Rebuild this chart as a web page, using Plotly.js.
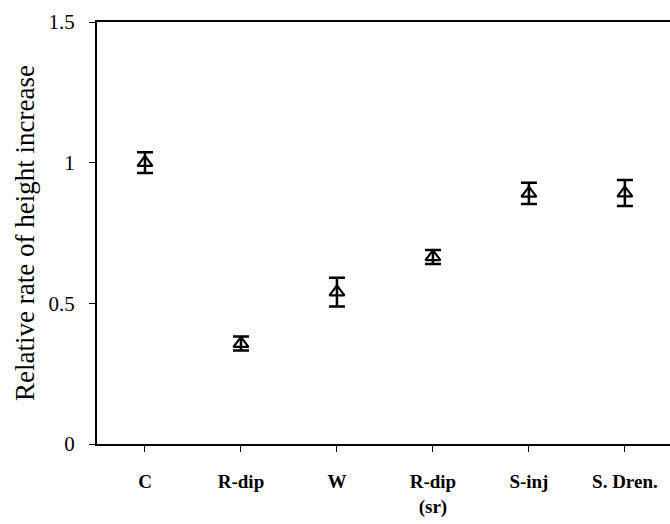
<!DOCTYPE html>
<html>
<head>
<meta charset="utf-8">
<script src="https://cdn.plot.ly/plotly-3.0.1.min.js"></script>
<style>html,body{margin:0;padding:0;background:#fff;}#chart{width:670px;height:524px;}</style>
</head>
<body>
<div id="chart"></div>
<script>
// Treatments and their relative rate of height increase (mean ± error)
const treatments = ["C", "R-dip", "W", "R-dip<br>(sr)", "S-inj", "S. Dren."];
const relativeRate = [1.00, 0.357, 0.54, 0.665, 0.891, 0.892];
const errorHalf = [0.037, 0.025, 0.051, 0.025, 0.038, 0.046];
const yTickValues = [0, 0.5, 1, 1.5];
const yTickLabels = ["0", "0.5", "1", "1.5"];

const serif = "Liberation Serif, Times New Roman, serif";

const trace = {
  type: "scatter",
  mode: "markers",
  x: treatments.map((_, i) => i),
  y: relativeRate,
  marker: {
    symbol: "triangle-up-open",
    size: 13,
    color: "#000",
    line: {width: 2.2, color: "#000"}
  },
  error_y: {
    type: "data",
    array: errorHalf,
    visible: true,
    color: "#000",
    thickness: 2.5,
    width: 8
  },
  hoverinfo: "skip"
};

const layout = {
  width: 670,
  height: 524,
  margin: {l: 97, r: 0, t: 22, b: 80},
  paper_bgcolor: "#fff",
  plot_bgcolor: "#fff",
  showlegend: false,
  xaxis: {
    range: [-0.5, 5.47],
    tickmode: "array",
    tickvals: treatments.map((_, i) => i),
    ticktext: treatments,
    tickson: "boundaries",
    ticks: "outside",
    ticklen: 6,
    tickwidth: 1,
    tickcolor: "#000",
    ticklabelstandoff: 13,
    showgrid: false,
    zeroline: false,
    showline: true,
    linecolor: "#000",
    linewidth: 2,
    mirror: true,
    tickfont: {family: serif, size: 19, color: "#000", weight: "bold"}
  },
  yaxis: {
    range: [0, 1.5],
    tickmode: "array",
    tickvals: yTickValues,
    ticktext: yTickLabels,
    ticks: "outside",
    ticklen: 6,
    tickwidth: 1,
    tickcolor: "#000",
    ticklabelstandoff: 10,
    showgrid: false,
    zeroline: false,
    showline: true,
    linecolor: "#000",
    linewidth: 2,
    tickfont: {family: serif, size: 21, color: "#000"},
    title: {
      text: "Relative rate of height increase",
      font: {family: serif, size: 27, color: "#000"},
      standoff: 6
    }
  }
};

Plotly.newPlot("chart", [trace], layout, {displayModeBar: false, staticPlot: true});
</script>
</body>
</html>
